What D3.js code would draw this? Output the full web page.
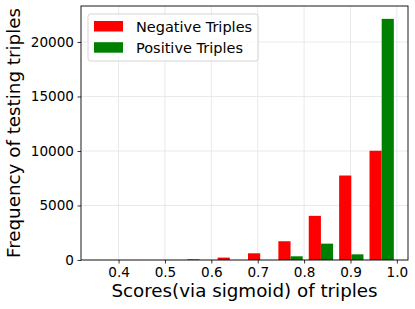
<!DOCTYPE html>
<html>
<head>
<meta charset="utf-8">
<script src="https://cdn.jsdelivr.net/npm/d3@7"></script>
<style>
  body { margin: 0; background: #fff; }
  text { font-family: 'DejaVu Sans', sans-serif; fill: #000; }
</style>
</head>
<body>
<div id="chart"></div>
<script>
// histogram bins (left edge of each bin), all bins same width
var binEdges = [0.345, 0.4105, 0.476, 0.5415, 0.607, 0.6725, 0.738, 0.8035, 0.869, 0.9345];
var binWidth = 0.0655;
var negativeCounts = [0, 0, 0, 60, 220, 615, 1720, 4050, 7750, 10020];
var positiveCounts = [0, 0, 0, 0, 0, 0, 340, 1500, 520, 22120];
var xTicks = [0.4, 0.5, 0.6, 0.7, 0.8, 0.9, 1.0];
var yTicks = [0, 5000, 10000, 15000, 20000];
var seriesNames = ["Negative Triples", "Positive Triples"];
var seriesColors = ["#ff0000", "#008000"];

var W = 415, H = 309;
var margin = {top: 6, right: 7, bottom: 49, left: 81};

var svg = d3.select("#chart").append("svg")
    .attr("width", W).attr("height", H);

var x = d3.scaleLinear().domain([0.319, 1.024]).range([margin.left, W - margin.right]);
var y = d3.scaleLinear().domain([0, 23300]).range([H - margin.bottom, margin.top]);

// grid
var grid = svg.append("g").attr("class", "grid");
grid.selectAll(".gx").data(xTicks).enter().append("line")
    .attr("x1", function(d) { return x(d); }).attr("x2", function(d) { return x(d); })
    .attr("y1", y.range()[0]).attr("y2", y.range()[1])
    .style("stroke", "#e3e3e3").style("stroke-width", 0.8);
grid.selectAll(".gy").data(yTicks).enter().append("line")
    .attr("y1", function(d) { return y(d); }).attr("y2", function(d) { return y(d); })
    .attr("x1", x.range()[0]).attr("x2", x.range()[1])
    .style("stroke", "#e3e3e3").style("stroke-width", 0.8);

// bars: two side-by-side bars per bin taking 80% of bin width
var rows = binEdges.map(function(e, i) {
  return {edge: e, values: [negativeCounts[i], positiveCounts[i]]};
});
var bars = svg.append("g").attr("class", "bars");
rows.forEach(function(r) {
  r.values.forEach(function(v, s) {
    if (!v) return;
    var x0 = r.edge + binWidth * (0.1 + 0.4 * s);
    bars.append("rect")
      .attr("x", x(x0))
      .attr("width", x(x0 + binWidth * 0.4) - x(x0))
      .attr("y", y(v))
      .attr("height", y(0) - y(v))
      .style("fill", seriesColors[s]);
  });
});

// axes
var xAxis = svg.append("g")
    .attr("transform", "translate(0," + y(0) + ")")
    .call(d3.axisBottom(x).tickValues(xTicks).tickFormat(d3.format(".1f")).tickSizeOuter(0).tickSize(3.5).tickPadding(3.5));
var yAxis = svg.append("g")
    .attr("transform", "translate(" + x.range()[0] + ",0)")
    .call(d3.axisLeft(y).tickValues(yTicks).tickFormat(d3.format("d")).tickSizeOuter(0).tickSize(3.5).tickPadding(3.5));
[xAxis, yAxis].forEach(function(a) {
  a.select(".domain").remove();
  a.selectAll("line").style("stroke", "#000").style("stroke-width", 0.8);
  a.selectAll("text").style("font-size", "13.6px").attr("font-family", "'DejaVu Sans', sans-serif");
});

// frame
svg.append("rect")
    .attr("x", x.range()[0]).attr("y", y.range()[1])
    .attr("width", x.range()[1] - x.range()[0])
    .attr("height", y.range()[0] - y.range()[1])
    .style("fill", "none").style("stroke", "#000").style("stroke-width", 0.9);

// axis labels
svg.append("text")
    .attr("x", (x.range()[0] + x.range()[1]) / 2).attr("y", 297)
    .style("text-anchor", "middle").style("font-size", "18.3px")
    .text("Scores(via sigmoid) of triples");
svg.append("text")
    .attr("transform", "translate(20," + ((y.range()[0] + y.range()[1]) / 2) + ") rotate(-90)")
    .style("text-anchor", "middle").style("font-size", "18.3px")
    .text("Frequency of testing triples");

// legend
var legend = svg.append("g").attr("transform", "translate(88,14)");
legend.append("rect")
    .attr("width", 170).attr("height", 47).attr("rx", 2.5)
    .style("fill", "#fff").style("fill-opacity", 0.8)
    .style("stroke", "#d0d0d0").style("stroke-width", 0.9);
seriesNames.forEach(function(name, i) {
  legend.append("rect")
    .attr("x", 6).attr("y", 7 + i * 21.2)
    .attr("width", 29).attr("height", 10.5)
    .style("fill", seriesColors[i]);
  legend.append("text")
    .attr("x", 48).attr("y", 17.5 + i * 21.2)
    .style("font-size", "14.5px")
    .text(name);
});
</script>
</body>
</html>
